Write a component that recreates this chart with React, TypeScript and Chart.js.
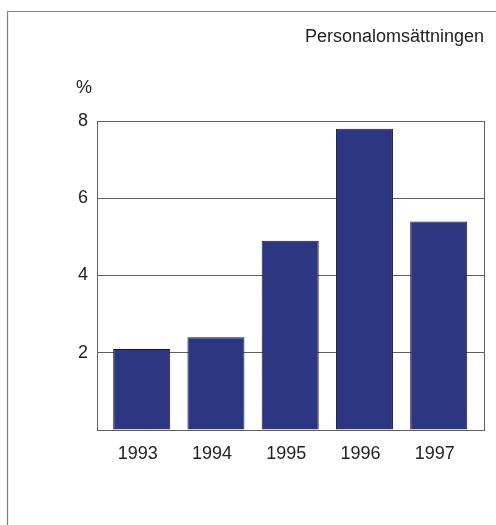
import React, { useEffect, useRef } from "react";
import { Chart, registerables } from "chart.js";

Chart.register(...registerables);

const years = ["1993", "1994", "1995", "1996", "1997"];
const turnover = [2.1, 2.4, 4.9, 7.8, 5.4];
const yTicks = [2, 4, 6, 8];
const titleText = "Personalomsättningen";
const unitText = "%";

const FONT = "'Liberation Sans', Arial, Helvetica, sans-serif";

const decorPlugin = {
  id: "decor",
  beforeDatasetsDraw(chart: any) {
    const { ctx, chartArea } = chart;
    ctx.save();
    ctx.strokeStyle = "#5e5e66";
    ctx.lineWidth = 1;
    const r = Math.round(chartArea.right) + 0.5;
    ctx.beginPath();
    ctx.moveTo(r, Math.round(chartArea.top));
    ctx.lineTo(r, Math.round(chartArea.bottom) + 1);
    ctx.stroke();
    ctx.restore();
  },
  afterDraw(chart: any) {
    const { ctx, width, height, chartArea } = chart;
    ctx.save();
    // outer frame (left + top)
    ctx.strokeStyle = "#80808c";
    ctx.lineWidth = 1.2;
    ctx.beginPath();
    ctx.moveTo(7.5, height);
    ctx.lineTo(7.5, 11.5);
    ctx.lineTo(width, 11.5);
    ctx.stroke();
    // title
    ctx.fillStyle = "#222";
    ctx.font = `18px ${FONT}`;
    ctx.textAlign = "right";
    ctx.textBaseline = "alphabetic";
    ctx.fillText(titleText, chartArea.right, 42);
    // unit
    ctx.textAlign = "center";
    ctx.fillText(unitText, 84, 93);
    ctx.restore();
  },
};

export default function App() {
  const ref = useRef<HTMLCanvasElement | null>(null);

  useEffect(() => {
    if (!ref.current) return;
    const chart = new Chart(ref.current, {
      type: "bar",
      data: {
        datasets: [
          {
            data: turnover.map((v, i) => ({ x: i, y: v })),
            backgroundColor: "#2d3681",
            borderColor: "#181b3e",
            borderWidth: 1,
            categoryPercentage: 1,
            barPercentage: 0.768,
          } as any,
        ],
      },
      options: {
        responsive: false,
        animation: false,
        devicePixelRatio: 1,
        layout: { padding: { top: 121, right: 12, left: 0, bottom: 0 } },
        plugins: {
          legend: { display: false },
          tooltip: { enabled: false },
          title: { display: false },
        },
        scales: {
          x: {
            type: "linear",
            offset: false,
            min: -0.602,
            max: 4.61,
            grid: { display: false, offset: false },
            border: { display: true, color: "#5e5e66", width: 1 },
            ticks: {
              stepSize: 1,
              includeBounds: false,
              autoSkip: false,
              maxRotation: 0,
              padding: 5,
              labelOffset: -4,
              color: "#222",
              font: { family: FONT, size: 18 },
              callback: (v: any) =>
                Number.isInteger(v) && years[v] !== undefined ? years[v] : "",
            },
            afterFit: (s: any) => {
              s.height = 95;
            },
          },
          y: {
            min: 0,
            max: 8,
            grid: {
              color: "#5e5e66",
              lineWidth: 1,
              drawTicks: false,
            },
            border: { display: true, color: "#5e5e66", width: 1 },
            afterBuildTicks: (s: any) => {
              s.ticks = [0, ...yTicks].map((v) => ({ value: v }));
            },
            ticks: {
              padding: 9,
              color: "#222",
              font: { family: FONT, size: 18 },
              callback: (v: any) => (yTicks.includes(Number(v)) ? String(v) : ""),
            },
            afterFit: (s: any) => {
              s.width = 97;
            },
          },
        },
      },
      plugins: [decorPlugin],
    });
    return () => chart.destroy();
  }, []);

  return (
    <div style={{ position: "absolute", left: 0, top: 0, width: 496, height: 525, background: "#fff" }}>
      <canvas ref={ref} width={496} height={525} style={{ display: "block" }} />
    </div>
  );
}
